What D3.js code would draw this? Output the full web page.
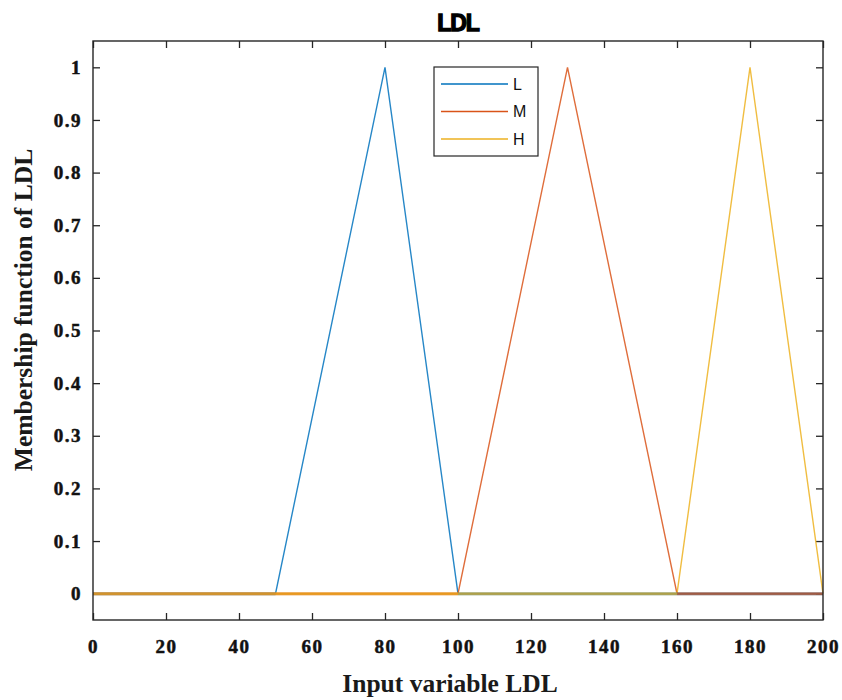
<!DOCTYPE html>
<html><head><meta charset="utf-8">
<script src="https://cdn.jsdelivr.net/npm/d3@7"></script>
<style>body{margin:0;background:#fff}</style>
</head><body>
<svg id="c" width="842" height="700"></svg>
<script>
const seriesNames = ["L", "M", "H"];
const seriesColors = ["#0072BD", "#D95319", "#EDB120"];
const xL = [0, 50, 80, 100, 200];
const yL = [0, 0, 1, 0, 0];
const xM = [0, 100, 130, 160, 200];
const yM = [0, 0, 1, 0, 0];
const xH = [0, 160, 180, 200];
const yH = [0, 0, 1, 0];
const xTicks = [0, 20, 40, 60, 80, 100, 120, 140, 160, 180, 200];
const yTicks = [0, 0.1, 0.2, 0.3, 0.4, 0.5, 0.6, 0.7, 0.8, 0.9, 1];
const titleText = "LDL";
const xLabel = "Input variable LDL";
const yLabel = "Membership function of LDL";

const series = [
  {name: seriesNames[0], color: seriesColors[0], pts: xL.map((x,i)=>[x,yL[i]])},
  {name: seriesNames[1], color: seriesColors[1], pts: xM.map((x,i)=>[x,yM[i]])},
  {name: seriesNames[2], color: seriesColors[2], pts: xH.map((x,i)=>[x,yH[i]])}
];

const L = 93, R = 823, T = 41, B = 620;
const x = d3.scaleLinear().domain([0, 200]).range([L, R]);
const y = d3.scaleLinear().domain([-0.05, 1.05]).range([B, T]);
const svg = d3.select("#c");
const axisColor = "#262626";
const tickFont = "'Liberation Serif','Times New Roman',serif";

// axes with ticks inward
const gx = svg.append("g").attr("transform", `translate(0,${B})`)
  .call(d3.axisBottom(x).tickValues(xTicks).tickSizeInner(-7).tickSizeOuter(0).tickPadding(16).tickFormat(d3.format("d")));
const gxt = svg.append("g").attr("transform", `translate(0,${T})`)
  .call(d3.axisTop(x).tickValues(xTicks).tickSizeInner(-7).tickSizeOuter(0).tickFormat(""));
const gy = svg.append("g").attr("transform", `translate(${L},0)`)
  .call(d3.axisLeft(y).tickValues(yTicks).tickSizeInner(-7).tickSizeOuter(0).tickPadding(11).tickFormat(d => d === 0 ? "0" : d === 1 ? "1" : d3.format(".1f")(d)));
const gyr = svg.append("g").attr("transform", `translate(${R},0)`)
  .call(d3.axisRight(y).tickValues(yTicks).tickSizeInner(-7).tickSizeOuter(0).tickFormat(""));
[gx, gxt, gy, gyr].forEach(g => {
  g.select(".domain").remove();
  g.selectAll(".tick line").attr("stroke", axisColor).attr("stroke-width", 1.3);
  g.selectAll("text").attr("fill", "#111").attr("stroke", "#111").attr("stroke-width", 0.5)
    .style("font-family", tickFont)
    .style("font-weight", "bold").style("font-size", "19px").style("letter-spacing", "1.5px");
});
gx.selectAll(".tick text").attr("dy", "0.35em").attr("y", 26);

// series
const line = d3.line().x(d => x(d[0])).y(d => y(d[1]));
series.forEach(s => {
  svg.append("path").datum(s.pts).attr("d", line)
    .attr("fill", "none").attr("stroke", s.color).attr("stroke-width", 1.4)
    .attr("stroke-opacity", 0.85).attr("stroke-linejoin", "miter");
});
// zero segments (overlapping baseline, blended)
series.forEach(s => {
  const segs = [];
  for (let i = 0; i < s.pts.length - 1; i++) {
    if (s.pts[i][1] === 0 && s.pts[i+1][1] === 0) segs.push([s.pts[i], s.pts[i+1]]);
  }
  svg.append("g").selectAll("line").data(segs).join("line")
    .attr("x1", d => x(d[0][0])).attr("x2", d => x(d[1][0]))
    .attr("y1", d => y(d[0][1])).attr("y2", d => y(d[1][1]))
    .attr("stroke", s.color).attr("stroke-width", 3).attr("stroke-opacity", 0.6);
});

// frame
svg.append("rect").attr("x", L).attr("y", T).attr("width", R - L).attr("height", B - T)
  .attr("fill", "none").attr("stroke", axisColor).attr("stroke-width", 1.4);

// legend
const lg = svg.append("g");
lg.append("rect").attr("x", 434).attr("y", 67).attr("width", 104).attr("height", 89)
  .attr("fill", "#fff").attr("stroke", axisColor).attr("stroke-width", 1.2);
series.forEach((s, i) => {
  const yy = 84 + i * 27.5;
  lg.append("line").attr("x1", 441).attr("x2", 508).attr("y1", yy).attr("y2", yy)
    .attr("stroke", s.color).attr("stroke-width", 1.4);
  lg.append("text").attr("x", 513).attr("y", yy).attr("dy", "0.36em")
    .style("font-family", "'Liberation Sans',Arial,sans-serif").style("font-size", "16px")
    .attr("fill", "#111").text(s.name);
});

// title & labels
svg.append("text").attr("x", 458).attr("y", 31).attr("text-anchor", "middle")
  .style("font-family", "'Liberation Sans',Arial,sans-serif").style("font-weight", "bold")
  .style("font-size", "23px").style("letter-spacing", "-1px")
  .attr("fill", "#000").attr("stroke", "#000").attr("stroke-width", 1.3).text(titleText);
svg.append("text").attr("x", 450).attr("y", 692).attr("text-anchor", "middle")
  .style("font-family", tickFont).style("font-weight", "bold").style("font-size", "25.5px")
  .attr("fill", "#1a1a1a").text(xLabel);
svg.append("text").attr("transform", "translate(32,310) rotate(-90)").attr("text-anchor", "middle")
  .style("font-family", tickFont).style("font-weight", "bold").style("font-size", "25.5px")
  .attr("fill", "#1a1a1a").text(yLabel);
</script>
</body></html>
